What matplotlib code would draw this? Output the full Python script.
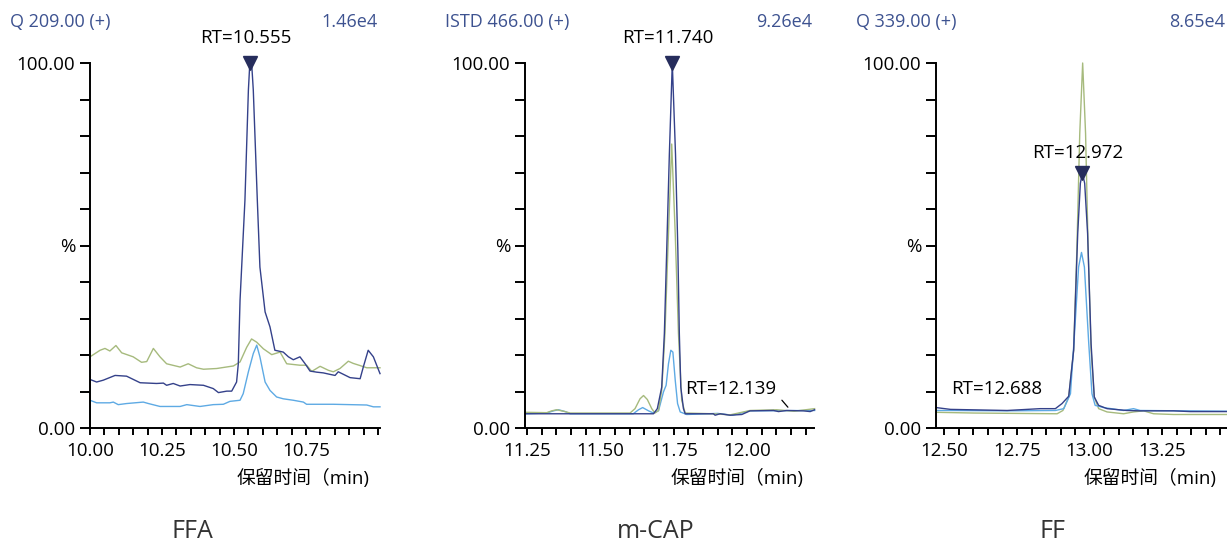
import matplotlib
matplotlib.use("Agg")
import matplotlib.pyplot as plt
from matplotlib.ticker import MultipleLocator, FuncFormatter

plt.rcParams['font.family'] = ['Open Sans', 'Noto Sans CJK SC', 'DejaVu Sans']

NAVY = '#34418a'
GREEN = '#a6ba7d'
LIGHT = '#5eaae4'
HEAD = '#3d5290'

# ---- FFA (Q 209.00) ----
ffa_green_t = [10.000, 10.035, 10.052, 10.069, 10.090, 10.110, 10.150, 10.179, 10.197, 10.220,
               10.243, 10.266, 10.313, 10.341, 10.370, 10.394, 10.440, 10.498, 10.521, 10.544,
               10.561, 10.579, 10.602, 10.631, 10.660, 10.683, 10.729, 10.752, 10.770, 10.799,
               10.828, 10.845, 10.868, 10.897, 10.914, 10.938, 10.961, 11.007]
ffa_green_v = [19.5, 21.3, 21.8, 21.1, 22.6, 20.6, 19.5, 18.0, 18.2, 21.8,
               19.5, 17.6, 16.7, 17.6, 16.5, 16.1, 16.3, 17.0, 18.1, 22.1,
               24.4, 23.5, 21.7, 20.1, 20.8, 17.6, 17.2, 17.2, 15.5, 16.9,
               15.8, 15.4, 16.3, 18.3, 17.7, 17.1, 16.5, 16.5]
ffa_navy_t = [10.000, 10.023, 10.046, 10.087, 10.127, 10.174, 10.231, 10.255, 10.266, 10.289,
              10.313, 10.347, 10.394, 10.428, 10.446, 10.475, 10.492, 10.509, 10.515, 10.521,
              10.538, 10.550, 10.555, 10.562, 10.567, 10.581, 10.590, 10.608, 10.625, 10.642,
              10.671, 10.689, 10.706, 10.729, 10.747, 10.764, 10.787, 10.810, 10.833, 10.851,
              10.862, 10.880, 10.903, 10.938, 10.949, 10.966, 10.984, 11.007]
ffa_navy_v = [13.3, 12.6, 13.1, 14.4, 14.2, 12.4, 12.2, 12.3, 11.7, 12.2,
              11.5, 11.9, 11.7, 10.8, 9.7, 10.1, 10.1, 12.6, 17.6, 35.0,
              62.4, 92.6, 100.0, 99.0, 92.6, 62.4, 44.1, 31.8, 27.7, 21.3,
              20.8, 19.5, 18.7, 19.5, 17.6, 15.6, 15.3, 15.1, 14.7, 14.4,
              15.4, 14.7, 13.8, 13.5, 16.7, 21.3, 19.5, 14.9]
ffa_light_t = [10.000, 10.023, 10.069, 10.081, 10.098, 10.127, 10.185, 10.203, 10.243, 10.313,
               10.336, 10.382, 10.428, 10.463, 10.486, 10.521, 10.532, 10.550, 10.567, 10.579,
               10.590, 10.608, 10.625, 10.648, 10.671, 10.706, 10.741, 10.752, 10.845, 10.961,
               10.984, 11.007]
ffa_light_v = [7.6, 6.9, 6.9, 7.1, 6.4, 6.7, 7.1, 6.7, 5.9, 5.9,
               6.4, 5.9, 6.4, 6.5, 7.3, 7.6, 9.4, 15.4, 20.4, 22.7,
               19.5, 12.6, 10.3, 8.5, 8.0, 7.6, 7.1, 6.5, 6.5, 6.3,
               5.8, 5.8]

# ---- m-CAP (ISTD 466.00) ----
mcap_navy_t = [11.243, 11.681, 11.694, 11.709, 11.718, 11.726, 11.735, 11.745, 11.756, 11.764,
               11.769, 11.774, 11.783, 11.789, 11.885, 11.891, 11.908, 11.942, 11.982, 12.010,
               12.090, 12.107, 12.135, 12.192, 12.215, 12.230]
mcap_navy_v = [3.9, 3.9, 5.3, 11.2, 25.9, 48.7, 75.0, 100.0, 75.0, 48.7,
               25.9, 11.2, 5.3, 3.9, 3.9, 3.5, 3.9, 3.5, 3.7, 4.7,
               4.8, 4.5, 4.8, 4.7, 4.5, 5.0]
mcap_green_t = [11.243, 11.317, 11.334, 11.351, 11.374, 11.397, 11.601, 11.618, 11.635, 11.647,
                11.660, 11.675, 11.686, 11.698, 11.709, 11.720, 11.732, 11.743, 11.755, 11.766,
                11.777, 11.789, 11.885, 11.942, 12.010, 12.100, 12.160, 12.230]
mcap_green_v = [4.3, 4.2, 4.7, 5.0, 4.6, 4.1, 4.1, 5.3, 8.0, 8.9,
                7.8, 5.3, 4.1, 4.8, 10.3, 25.9, 53.3, 77.8, 53.3, 25.9,
                7.6, 4.1, 3.9, 3.6, 4.8, 5.0, 4.6, 5.3]
mcap_light_t = [11.243, 11.317, 11.340, 11.357, 11.380, 11.397, 11.612, 11.630, 11.644, 11.664,
                11.681, 11.698, 11.715, 11.724, 11.732, 11.740, 11.747, 11.755, 11.763, 11.772,
                11.794, 11.900, 11.950, 12.010, 12.230]
mcap_light_v = [3.9, 4.1, 4.7, 5.0, 4.5, 3.9, 3.9, 5.0, 5.6, 4.7,
                4.1, 4.7, 9.9, 11.7, 17.6, 21.3, 20.8, 13.1, 6.7, 4.4,
                3.7, 4.0, 3.5, 4.7, 4.8]

# ---- FF (Q 339.00) ----
ff_green_t = [12.471, 12.601, 12.888, 12.908, 12.928, 12.945, 12.956, 12.966, 12.976, 12.986,
              12.995, 13.005, 13.016, 13.031, 13.060, 13.117, 13.151, 13.186, 13.220, 13.289,
              13.473]
ff_green_v = [4.3, 4.1, 3.9, 4.8, 8.5, 21.3, 48.7, 80.7, 100.0, 80.7,
              48.7, 21.3, 8.5, 5.3, 4.4, 3.9, 4.4, 4.7, 3.9, 3.7,
              3.7]
ff_navy_t = [12.471, 12.521, 12.716, 12.830, 12.882, 12.905, 12.928, 12.945, 12.959, 12.968,
             12.975, 12.983, 12.993, 13.005, 13.016, 13.031, 13.060, 13.128, 13.174, 13.289,
             13.346, 13.473]
ff_navy_v = [5.6, 5.1, 4.8, 5.3, 5.3, 6.7, 8.7, 21.3, 53.3, 67.0,
             70.0, 67.0, 53.3, 23.1, 8.5, 6.2, 5.3, 4.8, 4.7, 4.7,
             4.5, 4.5]
ff_light_t = [12.471, 12.521, 12.716, 12.882, 12.911, 12.934, 12.948, 12.962, 12.972, 12.982,
              12.997, 13.008, 13.019, 13.048, 13.117, 13.151, 13.174, 13.473]
ff_light_v = [4.8, 4.8, 4.7, 4.8, 5.3, 9.4, 25.9, 44.1, 48.1, 44.1,
              23.1, 9.4, 6.2, 5.6, 4.8, 5.3, 4.8, 4.6]

channels = ['Q 209.00 (+)', 'ISTD 466.00 (+)', 'Q 339.00 (+)']
intensities = ['1.46e4', '9.26e4', '8.65e4']
names = ['FFA', 'm-CAP', 'FF']
xlims = [(10.0, 11.007), (11.243, 12.228), (12.471, 13.473)]
xlabels = [[10.00, 10.25, 10.50, 10.75], [11.25, 11.50, 11.75, 12.00], [12.50, 12.75, 13.00, 13.25]]
main_rt = [(10.555, 100.0), (11.745, 100.0), (12.972, 70.0)]
main_rt_text = ['RT=10.555', 'RT=11.740', 'RT=12.972']

series = [
    [(ffa_green_t, ffa_green_v, GREEN), (ffa_light_t, ffa_light_v, LIGHT), (ffa_navy_t, ffa_navy_v, NAVY)],
    [(mcap_light_t, mcap_light_v, LIGHT), (mcap_green_t, mcap_green_v, GREEN), (mcap_navy_t, mcap_navy_v, NAVY)],
    [(ff_green_t, ff_green_v, GREEN), (ff_light_t, ff_light_v, LIGHT), (ff_navy_t, ff_navy_v, NAVY)],
]

W, H = 1227, 543
fig = plt.figure(figsize=(W / 100, H / 100), dpi=100)
boxes = [(90, 380), (525, 814), (936, 1227)]
top, bottom = 63, 428
FS = 13.5

for i, (l, r) in enumerate(boxes):
    ax = fig.add_axes([l / W, (H - bottom) / H, (r - l) / W, (bottom - top) / H])
    for t, v, c in series[i]:
        ax.plot(t, v, color=c, lw=1.0, clip_on=False)
    ax.set_xlim(*xlims[i])
    ax.set_ylim(0, 100)
    for s in ['top', 'right']:
        ax.spines[s].set_visible(False)
    for s in ['left', 'bottom']:
        ax.spines[s].set_linewidth(1.4)
    ax.xaxis.set_major_locator(MultipleLocator(0.05))
    labs = xlabels[i]
    ax.xaxis.set_major_formatter(FuncFormatter(
        lambda x, p, labs=labs: f'{x:.2f}' if any(abs(x - q) < 1e-6 for q in labs) else ''))
    ax.set_yticks(range(0, 101, 10))
    ax.set_yticklabels(['0.00', '', '', '', '', '%', '', '', '', '', '100.00'])
    ax.tick_params(axis='x', length=5, width=1.4, labelsize=FS, pad=5)
    ax.tick_params(axis='y', length=7.5, width=1.4, labelsize=FS, pad=3)

    # header
    fig.text((l - 80) / W, 1 - 22 / H, channels[i], color=HEAD, fontsize=13, va='center', ha='left')
    fig.text((r - 2) / W, 1 - 22 / H, intensities[i], color=HEAD, fontsize=13, va='center', ha='right')
    fig.text((r - 10) / W, 1 - 478 / H, '保留时间（min)', fontsize=13.5, va='center', ha='right')

    # main peak marker
    rt, pv = main_rt[i]
    ax.plot([rt], [pv], marker='v', ms=10, color='#262d5c', clip_on=False, zorder=5)
    dy = 25 if i < 2 else 19
    ax.annotate(main_rt_text[i], xy=(rt, pv), xytext=(-4, dy), textcoords='offset pixels',
                ha='center', va='center', fontsize=FS)

    if i == 1:
        ax.annotate('', xy=(12.139, 5.7), xytext=(-6, 7), textcoords='offset pixels',
                    arrowprops=dict(arrowstyle='-', lw=0.9, color='black', shrinkA=0, shrinkB=0))
        ax.annotate('RT=12.139', xy=(12.139, 5.7), xytext=(-12, 18), textcoords='offset pixels',
                    ha='right', va='center', fontsize=FS)
    if i == 2:
        ax.annotate('RT=12.688', xy=(12.688, 5.0), xytext=(-2, 21), textcoords='offset pixels',
                    ha='center', va='center', fontsize=FS)

name_x = [192, 656, 1053]
for nx, nm in zip(name_x, names):
    fig.text(nx / W, 1 - 531 / H, nm, fontsize=18, color='#333333', ha='center', va='center')

fig.savefig('out.png', dpi=100)
